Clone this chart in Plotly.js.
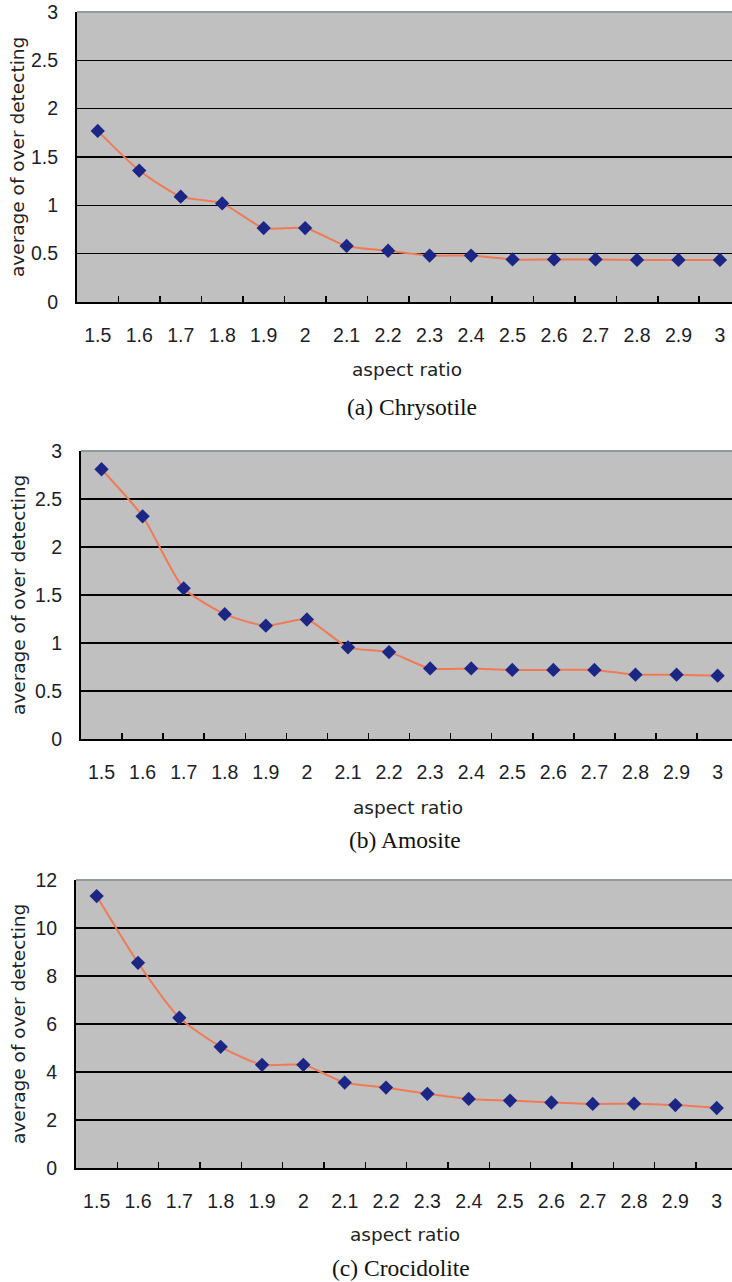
<!DOCTYPE html>
<html>
<head>
<meta charset="utf-8">
<script src="https://cdn.plot.ly/plotly-3.0.1.min.js"></script>
<style>html,body{margin:0;padding:0;background:#fff;}#chart{width:732px;height:1282px;}</style>
</head>
<body>
<div id="chart"></div>
<script>
// ---- data ----
const aspectRatio = ["1.5","1.6","1.7","1.8","1.9","2","2.1","2.2","2.3","2.4","2.5","2.6","2.7","2.8","2.9","3"];
const chrysotile  = [1.77, 1.36, 1.09, 1.02, 0.765, 0.765, 0.58, 0.53, 0.48, 0.48, 0.44, 0.44, 0.44, 0.435, 0.435, 0.435];
const amosite     = [2.81, 2.32, 1.57, 1.30, 1.18, 1.245, 0.955, 0.905, 0.735, 0.735, 0.72, 0.72, 0.72, 0.67, 0.67, 0.66];
const crocidolite = [11.33, 8.55, 6.26, 5.05, 4.30, 4.30, 3.56, 3.35, 3.09, 2.88, 2.81, 2.73, 2.67, 2.68, 2.62, 2.50];
const captions = ["(a) Chrysotile", "(b) Amosite", "(c) Crocidolite"];
const yTitle = "average of over detecting";
const xTitle = "aspect ratio";

const W = 732, H = 1282;
const tickFont = {family: "Liberation Sans, Arial, sans-serif", size: 19.5, color: "#1d1d2a"};
const titleFont = {family: "DejaVu Sans, sans-serif", size: 18.5, color: "#222"};
const capFont = {family: "Liberation Serif, Times New Roman, serif", size: 23.5, color: "#111"};

// panel geometry (pixels)
const panels = [
  {left: 77, top: 12,  bottom: 302,  xr: 15.29, yr: [0, 3],  dt: 0.5, data: chrysotile,  ytc: 157,  xtc: [407, 369],  cap: [412, 407]},
  {left: 81, top: 451, bottom: 739,  xr: 15.35, yr: [0, 3],  dt: 0.5, data: amosite,     ytc: 595,  xtc: [408, 807],  cap: [405, 840]},
  {left: 76, top: 880, bottom: 1168, xr: 15.37, yr: [0, 12], dt: 2,   data: crocidolite, ytc: 1024, xtc: [405, 1234], cap: [401, 1268]}
];

const traces = [], shapes = [], annotations = [];
const layout = {
  width: W, height: H,
  margin: {l: 0, r: 0, t: 0, b: 0},
  paper_bgcolor: "#ffffff",
  plot_bgcolor: "#c0c0c0",
  showlegend: false
};
const px = v => v / W, py = v => 1 - v / H;

panels.forEach((p, i) => {
  const n = i === 0 ? "" : String(i + 1);
  traces.push({
    x: aspectRatio, y: p.data,
    xaxis: "x" + n, yaxis: "y" + n,
    type: "scatter", mode: "lines+markers",
    line: {color: "#f07a55", width: 2, shape: "spline", smoothing: 0.6},
    marker: {symbol: "diamond", size: 11, color: "#1c2684"},
    cliponaxis: true
  });
  layout["xaxis" + n] = {
    type: "category",
    domain: [px(p.left), 1],
    anchor: "y" + n,
    range: [-0.5, p.xr],
    showgrid: false,
    showline: true, linecolor: "#000", linewidth: 2,
    ticks: "inside", tickson: "boundaries", ticklen: 6, tickwidth: 1.5, tickcolor: "#000",
    tickfont: tickFont,
    ticklabelstandoff: 15,
    ticklabeloverflow: "allow",
    zeroline: false, fixedrange: true
  };
  layout["yaxis" + n] = {
    domain: [py(p.bottom), py(p.top)],
    anchor: "x" + n,
    range: p.yr, dtick: p.dt,
    showgrid: true, gridcolor: "#000", gridwidth: 1.5,
    showline: true, linecolor: "#000", linewidth: 2,
    ticks: "", tickfont: tickFont,
    ticklabelstandoff: 13,
    ticklabeloverflow: "allow",
    zeroline: false, fixedrange: true
  };
  shapes.push({
    type: "line", xref: "x" + n + " domain", yref: "y" + n + " domain",
    x0: 0, x1: 1, y0: 1, y1: 1,
    line: {color: "#8e9c9c", width: 2}
  });
  annotations.push({
    text: yTitle, xref: "paper", yref: "paper",
    x: px(18), y: py(p.ytc), xanchor: "center", yanchor: "middle",
    textangle: -90, showarrow: false, font: titleFont
  });
  annotations.push({
    text: xTitle, xref: "paper", yref: "paper",
    x: px(p.xtc[0]), y: py(p.xtc[1]), xanchor: "center", yanchor: "middle",
    showarrow: false, font: titleFont
  });
  annotations.push({
    text: captions[i], xref: "paper", yref: "paper",
    x: px(p.cap[0]), y: py(p.cap[1]), xanchor: "center", yanchor: "middle",
    showarrow: false, font: capFont
  });
});
layout.shapes = shapes;
layout.annotations = annotations;

Plotly.newPlot("chart", traces, layout, {displayModeBar: false, staticPlot: true});
</script>
</body>
</html>
